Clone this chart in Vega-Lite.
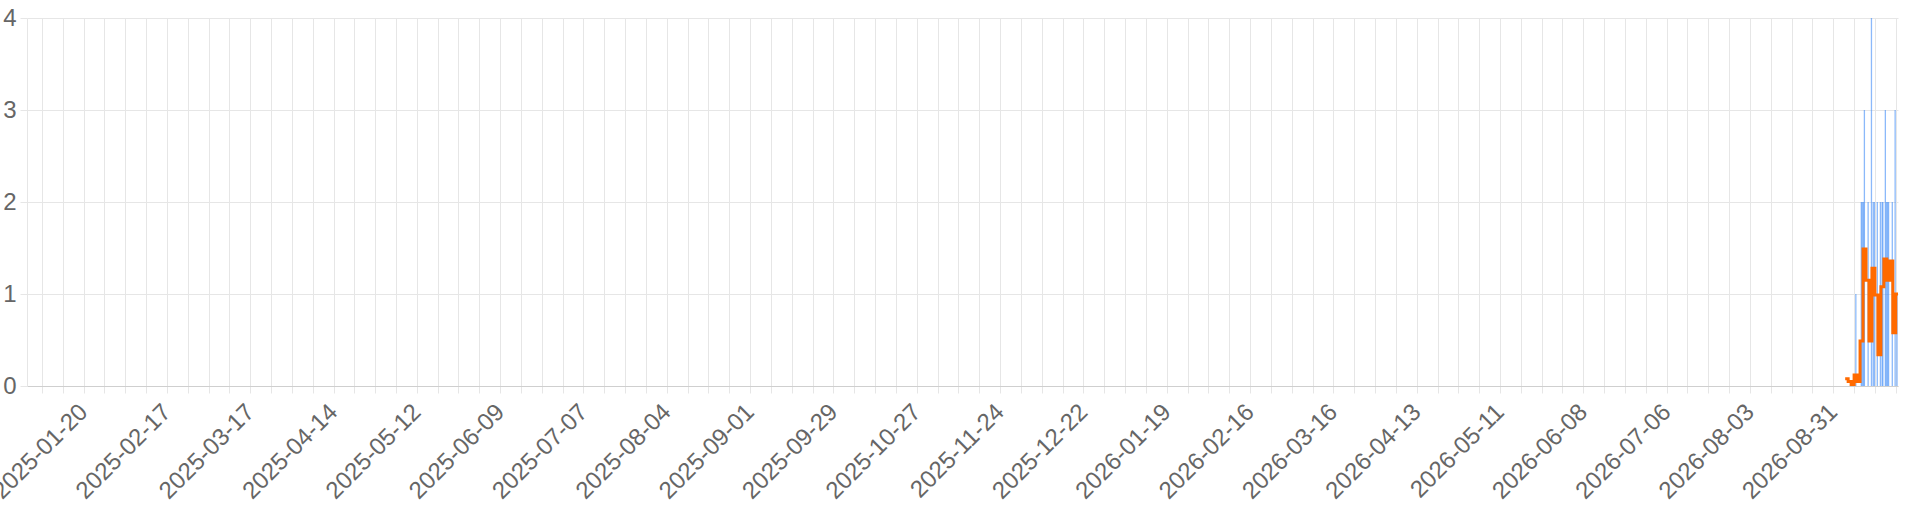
{
  "$schema": "https://vega.github.io/schema/vega-lite/v6.json",
  "autosize": "none",
  "width": 1871,
  "height": 368,
  "padding": {"left": 27, "top": 18, "right": 22, "bottom": 126},
  "background": "white",
  "view": {"stroke": null},
  "datasets": {
    "hourly": [
      {"t": "2026-09-07T14:00:00Z", "v": 1},
      {"t": "2026-09-09T10:00:00Z", "v": 2},
      {"t": "2026-09-09T18:00:00Z", "v": 2},
      {"t": "2026-09-10T04:00:00Z", "v": 2},
      {"t": "2026-09-10T11:00:00Z", "v": 3},
      {"t": "2026-09-11T17:00:00Z", "v": 2},
      {"t": "2026-09-12T20:00:00Z", "v": 4},
      {"t": "2026-09-13T10:00:00Z", "v": 2},
      {"t": "2026-09-13T20:00:00Z", "v": 2},
      {"t": "2026-09-14T19:00:00Z", "v": 2},
      {"t": "2026-09-15T20:00:00Z", "v": 2},
      {"t": "2026-09-16T10:00:00Z", "v": 2},
      {"t": "2026-09-16T16:00:00Z", "v": 2},
      {"t": "2026-09-17T12:00:00Z", "v": 3},
      {"t": "2026-09-17T21:00:00Z", "v": 2},
      {"t": "2026-09-18T06:00:00Z", "v": 2},
      {"t": "2026-09-18T14:00:00Z", "v": 2},
      {"t": "2026-09-19T20:00:00Z", "v": 2},
      {"t": "2026-09-20T19:00:00Z", "v": 3},
      {"t": "2026-09-21T10:00:00Z", "v": 1}
    ],
    "daily": [
      {"t": "2026-09-04T00:00:00Z", "v": 0.08},
      {"t": "2026-09-05T00:00:00Z", "v": 0.05},
      {"t": "2026-09-06T00:00:00Z", "v": 0},
      {"t": "2026-09-07T00:00:00Z", "v": 0.12},
      {"t": "2026-09-08T00:00:00Z", "v": 0.05},
      {"t": "2026-09-09T00:00:00Z", "v": 0.49},
      {"t": "2026-09-10T00:00:00Z", "v": 1.49},
      {"t": "2026-09-11T00:00:00Z", "v": 1.15},
      {"t": "2026-09-12T00:00:00Z", "v": 0.49},
      {"t": "2026-09-13T00:00:00Z", "v": 1.28},
      {"t": "2026-09-14T00:00:00Z", "v": 0.99},
      {"t": "2026-09-15T00:00:00Z", "v": 0.34},
      {"t": "2026-09-16T00:00:00Z", "v": 1.08},
      {"t": "2026-09-17T00:00:00Z", "v": 1.38},
      {"t": "2026-09-18T00:00:00Z", "v": 1.15},
      {"t": "2026-09-19T00:00:00Z", "v": 1.36},
      {"t": "2026-09-20T00:00:00Z", "v": 0.58},
      {"t": "2026-09-21T00:00:00Z", "v": 1.0},
      {"t": "2026-09-21T18:00:00Z", "v": 1.0}
    ]
  },
  "encoding": {
    "x": {
      "field": "t",
      "type": "temporal",
      "title": null,
      "scale": {"type": "utc", "domain": [1735689600000, 1790013600000]},
      "axis": {
        "values": [1736121600000, 1736726400000, 1737331200000, 1737936000000, 1738540800000, 1739145600000, 1739750400000, 1740355200000, 1740960000000, 1741564800000, 1742169600000, 1742774400000, 1743379200000, 1743984000000, 1744588800000, 1745193600000, 1745798400000, 1746403200000, 1747008000000, 1747612800000, 1748217600000, 1748822400000, 1749427200000, 1750032000000, 1750636800000, 1751241600000, 1751846400000, 1752451200000, 1753056000000, 1753660800000, 1754265600000, 1754870400000, 1755475200000, 1756080000000, 1756684800000, 1757289600000, 1757894400000, 1758499200000, 1759104000000, 1759708800000, 1760313600000, 1760918400000, 1761523200000, 1762128000000, 1762732800000, 1763337600000, 1763942400000, 1764547200000, 1765152000000, 1765756800000, 1766361600000, 1766966400000, 1767571200000, 1768176000000, 1768780800000, 1769385600000, 1769990400000, 1770595200000, 1771200000000, 1771804800000, 1772409600000, 1773014400000, 1773619200000, 1774224000000, 1774828800000, 1775433600000, 1776038400000, 1776643200000, 1777248000000, 1777852800000, 1778457600000, 1779062400000, 1779667200000, 1780272000000, 1780876800000, 1781481600000, 1782086400000, 1782691200000, 1783296000000, 1783900800000, 1784505600000, 1785110400000, 1785715200000, 1786320000000, 1786924800000, 1787529600000, 1788134400000, 1788739200000, 1789344000000, 1789948800000],
        "labelExpr": "(+datum.value - 1737331200000) % 2419200000 === 0 ? utcFormat(datum.value, '%Y-%m-%d') : ''",
        "labelOverlap": false,
        "labelBound": false,
        "labelFlush": false,
        "labelAngle": -45,
        "labelAlign": "right",
        "labelBaseline": "middle",
        "labelPadding": 15,
        "labelDx": -2,
        "labelFont": "Liberation Sans",
        "labelFontSize": 24,
        "labelColor": "#666666",
        "grid": true,
        "gridColor": "#e6e6e6",
        "gridWidth": 1,
        "tickSize": 7,
        "tickColor": "#e6e6e6",
        "domainColor": "#cfcfcf",
        "domainWidth": 1
      }
    },
    "y": {
      "field": "v",
      "type": "quantitative",
      "title": null,
      "scale": {"domain": [0, 4], "nice": false, "zero": true},
      "axis": {
        "values": [0, 1, 2, 3, 4],
        "labelFont": "Liberation Sans",
        "labelFontSize": 24,
        "labelColor": "#666666",
        "labelPadding": 4,
        "grid": true,
        "gridColor": "#e6e6e6",
        "tickSize": 7,
        "tickColor": "#e6e6e6",
        "domainColor": "#e6e6e6"
      }
    }
  },
  "layer": [
    {
      "data": {"name": "hourly"},
      "mark": {"type": "rule", "color": "#3d8af7", "strokeWidth": 1.3, "opacity": 0.6},
      "encoding": {"y2": {"datum": 0}}
    },
    {
      "data": {"name": "daily"},
      "mark": {"type": "line", "color": "#ff6a00", "strokeWidth": 3, "interpolate": "step-after", "clip": true}
    }
  ]
}
